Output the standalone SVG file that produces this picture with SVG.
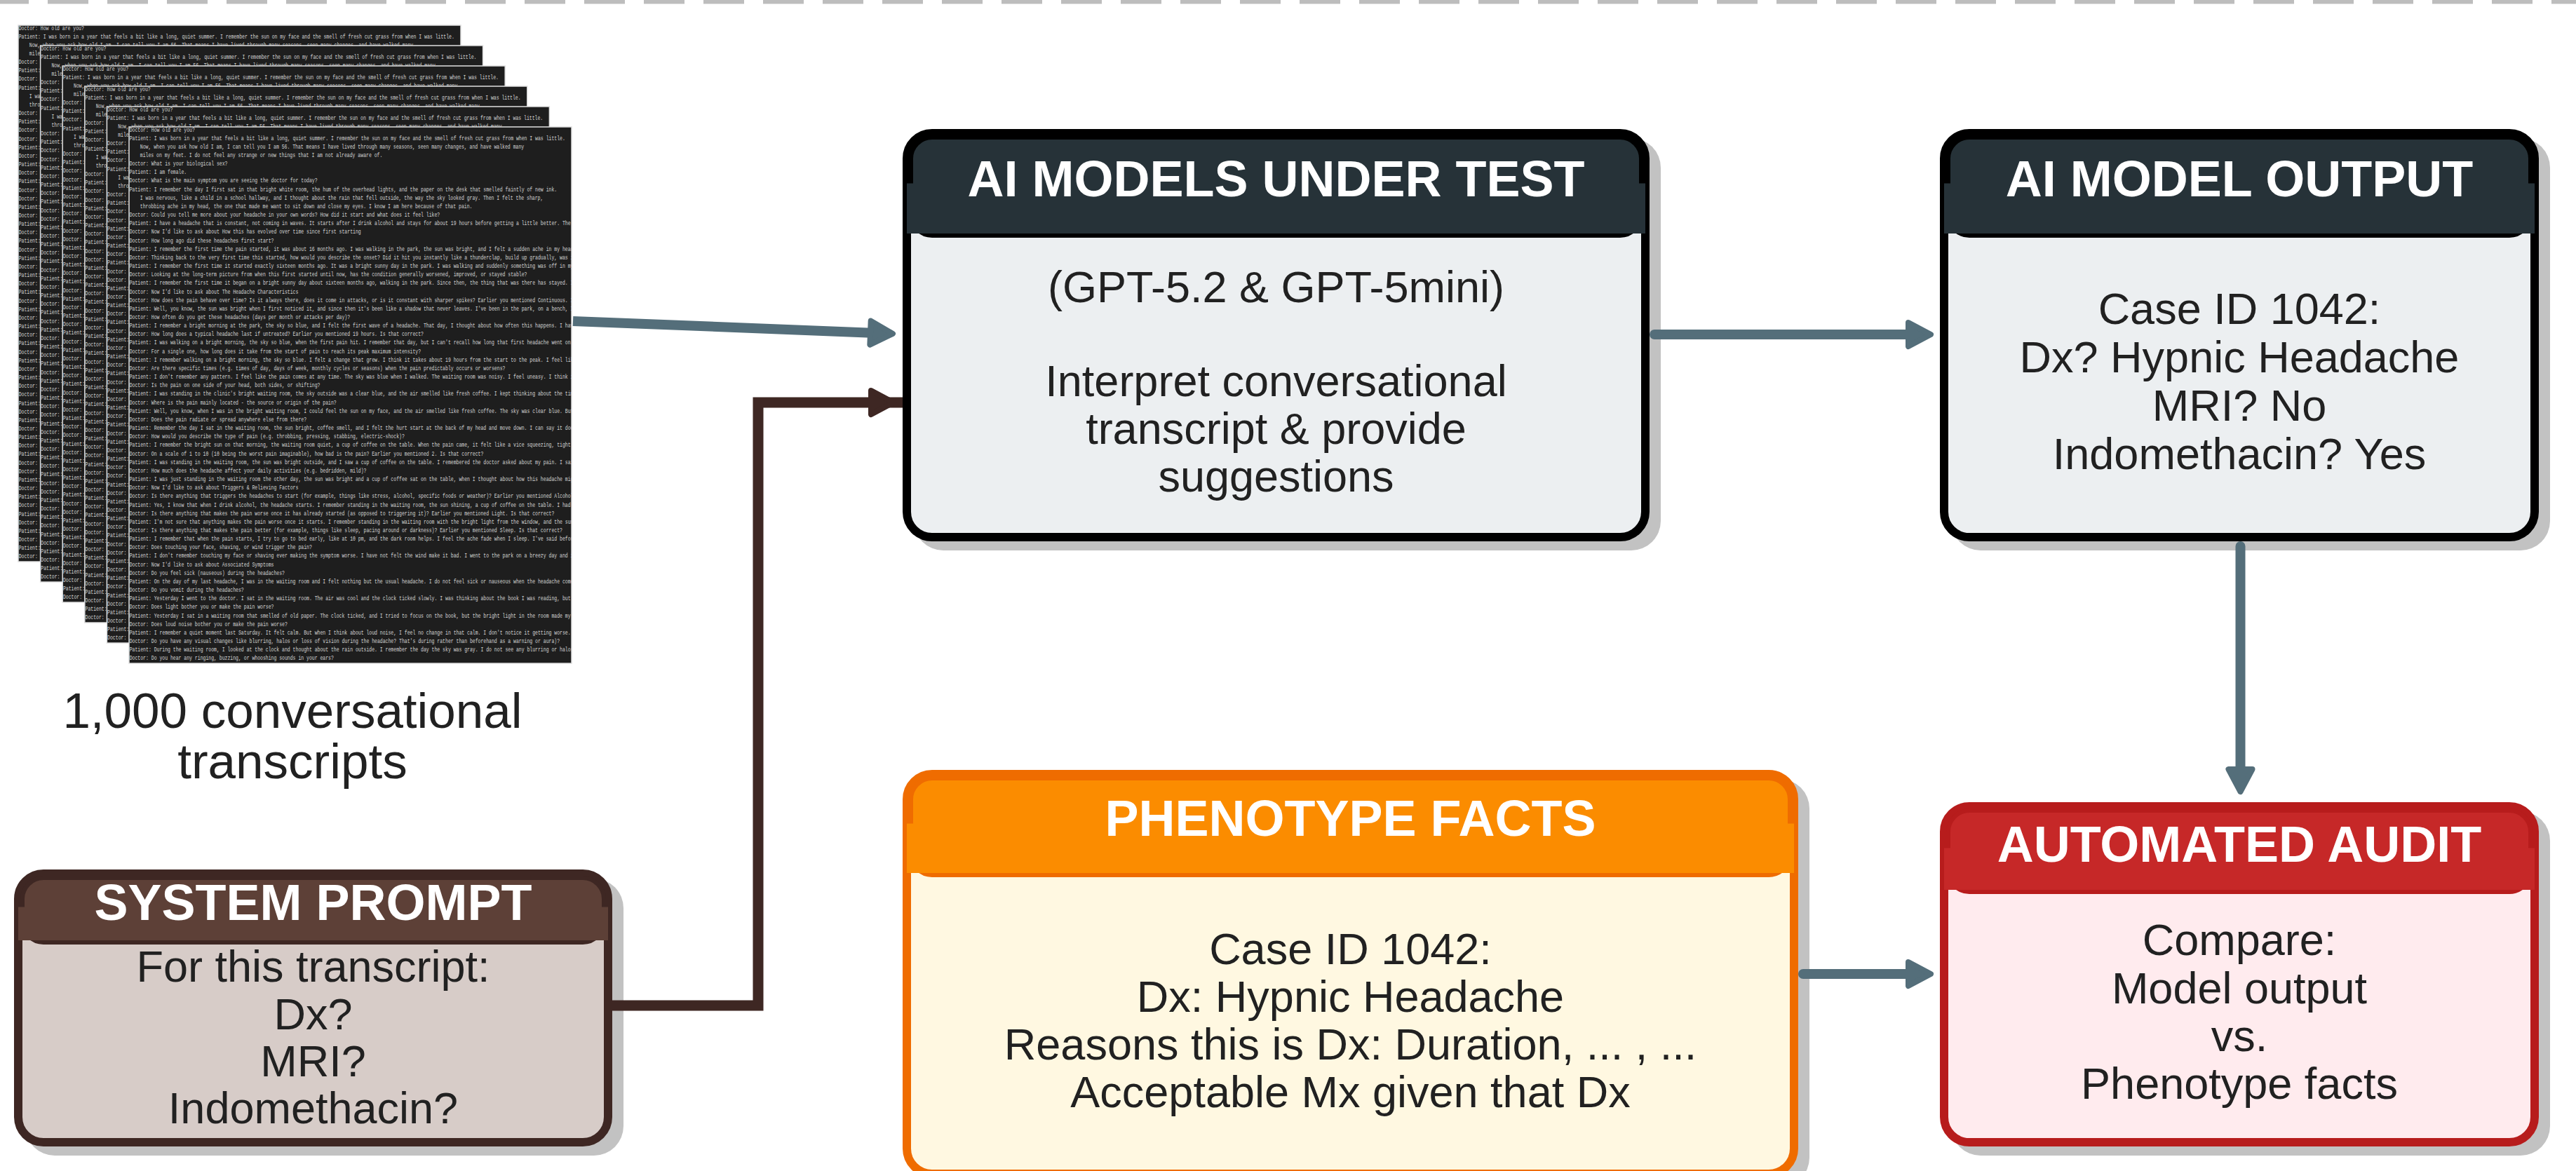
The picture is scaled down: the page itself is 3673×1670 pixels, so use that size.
<svg xmlns="http://www.w3.org/2000/svg" width="3673" height="1670" viewBox="0 0 3673 1670">
<style>
.hd{font-family:'Liberation Sans',Arial,sans-serif;font-weight:700;font-size:72px;fill:#ffffff;text-anchor:middle}
.bd{font-family:'Liberation Sans',Arial,sans-serif;font-size:63px;fill:#212121;text-anchor:middle}
.lb{font-family:'Liberation Sans',Arial,sans-serif;font-size:71px;fill:#212121;text-anchor:middle}
.sh{fill:#c2c2c2}
.sheet{fill:#1e1e1e}
.edge{fill:none;stroke:#e0e0e0;stroke-width:1.5}
.tx{font-family:'Liberation Mono','DejaVu Sans Mono',monospace;font-size:9px;fill:#d4d4d4}
.cg{fill:none;stroke:#546e7a;stroke-width:14}
.cb{fill:none;stroke:#3e2723;stroke-width:15;stroke-linejoin:miter}
.ag{fill:#546e7a;stroke:#546e7a}
.ab{fill:#3e2723;stroke:#3e2723}
</style>
<defs>
<clipPath id="sc"><rect width="631" height="765"/></clipPath>
<path id="ah" d="M-36,-17 L-4,0 L-36,17 Z" stroke-linejoin="round" stroke-width="8"/>
<g id="tx" transform="scale(0.72 1)">
<text class="tx" y="6.5">
<tspan x="1" dy="0">Doctor: How old are you?</tspan>
<tspan x="1" dy="12.16">Patient: I was born in a year that feels a bit like a long, quiet summer. I remember the sun on my face and the smell of fresh cut grass from when I was little.</tspan>
<tspan x="22" dy="12.16">Now, when you ask how old I am, I can tell you I am 56. That means I have lived through many seasons, seen many changes, and have walked many</tspan>
<tspan x="22" dy="12.16">miles on my feet. I do not feel any strange or new things that I am not already aware of.</tspan>
<tspan x="1" dy="12.16">Doctor: What is your biological sex?</tspan>
<tspan x="1" dy="12.16">Patient: I am female.</tspan>
<tspan x="1" dy="12.16">Doctor: What is the main symptom you are seeing the doctor for today?</tspan>
<tspan x="1" dy="12.16">Patient: I remember the day I first sat in that bright white room, the hum of the overhead lights, and the paper on the desk that smelled faintly of new ink.</tspan>
<tspan x="22" dy="12.16">I was nervous, like a child in a school hallway, and I thought about the rain that fell outside, the way the sky looked gray. Then I felt the sharp,</tspan>
<tspan x="22" dy="12.16">throbbing ache in my head, the one that made me want to sit down and close my eyes. I know I am here because of that pain.</tspan>
<tspan x="1" dy="12.16">Doctor: Could you tell me more about your headache in your own words? How did it start and what does it feel like?</tspan>
<tspan x="1" dy="12.16">Patient: I have a headache that is constant, not coming in waves. It starts after I drink alcohol and stays for about 19 hours before getting a little better. The</tspan>
<tspan x="1" dy="12.16">Doctor: Now I'd like to ask about How this has evolved over time since first starting</tspan>
<tspan x="1" dy="12.16">Doctor: How long ago did these headaches first start?</tspan>
<tspan x="1" dy="12.16">Patient: I remember the first time the pain started, it was about 16 months ago. I was walking in the park, the sun was bright, and I felt a sudden ache in my head</tspan>
<tspan x="1" dy="12.16">Doctor: Thinking back to the very first time this started, how would you describe the onset? Did it hit you instantly like a thunderclap, build up gradually, was i</tspan>
<tspan x="1" dy="12.16">Patient: I remember the first time it started exactly sixteen months ago. It was a bright sunny day in the park. I was walking and suddenly something was off in my</tspan>
<tspan x="1" dy="12.16">Doctor: Looking at the long-term picture from when this first started until now, has the condition generally worsened, improved, or stayed stable?</tspan>
<tspan x="1" dy="12.16">Patient: I remember the first time it began on a bright sunny day about sixteen months ago, walking in the park. Since then, the thing that was there has stayed. I</tspan>
<tspan x="1" dy="12.16">Doctor: Now I'd like to ask about The Headache Characteristics</tspan>
<tspan x="1" dy="12.16">Doctor: How does the pain behave over time? Is it always there, does it come in attacks, or is it constant with sharper spikes? Earlier you mentioned Continuous. I</tspan>
<tspan x="1" dy="12.16">Patient: Well, you know, the sun was bright when I first noticed it, and since then it's been like a shadow that never leaves. I've been in the park, on a bench, I</tspan>
<tspan x="1" dy="12.16">Doctor: How often do you get these headaches (days per month or attacks per day)?</tspan>
<tspan x="1" dy="12.16">Patient: I remember a bright morning at the park, the sky so blue, and I felt the first wave of a headache. That day, I thought about how often this happens. I hav</tspan>
<tspan x="1" dy="12.16">Doctor: How long does a typical headache last if untreated? Earlier you mentioned 19 hours. Is that correct?</tspan>
<tspan x="1" dy="12.16">Patient: I was walking on a bright morning, the sky so blue, when the first pain hit. I remember that day, but I can't recall how long that first headache went on.</tspan>
<tspan x="1" dy="12.16">Doctor: For a single one, how long does it take from the start of pain to reach its peak maximum intensity?</tspan>
<tspan x="1" dy="12.16">Patient: I remember walking on a bright morning, the sky so blue. I felt a change that grew. I think it takes about 19 hours from the start to the peak. I feel lik</tspan>
<tspan x="1" dy="12.16">Doctor: Are there specific times (e.g. times of day, days of week, monthly cycles or seasons) when the pain predictably occurs or worsens?</tspan>
<tspan x="1" dy="12.16">Patient: I don't remember any pattern. I feel like the pain comes at any time. The sky was blue when I walked. The waiting room was noisy. I feel uneasy. I think i</tspan>
<tspan x="1" dy="12.16">Doctor: Is the pain on one side of your head, both sides, or shifting?</tspan>
<tspan x="1" dy="12.16">Patient: I was standing in the clinic's bright waiting room, the sky outside was a clear blue, and the air smelled like fresh coffee. I kept thinking about the tim</tspan>
<tspan x="1" dy="12.16">Doctor: Where is the pain mainly located - the source or origin of the pain?</tspan>
<tspan x="1" dy="12.16">Patient: Well, you know, when I was in the bright waiting room, I could feel the sun on my face, and the air smelled like fresh coffee. The sky was clear blue. But</tspan>
<tspan x="1" dy="12.16">Doctor: Does the pain radiate or spread anywhere else from there?</tspan>
<tspan x="1" dy="12.16">Patient: Remember the day I sat in the waiting room, the sun bright, coffee smell, and I felt the hurt start at the back of my head and move down. I can say it doe</tspan>
<tspan x="1" dy="12.16">Doctor: How would you describe the type of pain (e.g. throbbing, pressing, stabbing, electric-shock)?</tspan>
<tspan x="1" dy="12.16">Patient: I remember the bright sun on that morning, the waiting room quiet, a cup of coffee on the table. When the pain came, it felt like a vice squeezing, tight</tspan>
<tspan x="1" dy="12.16">Doctor: On a scale of 1 to 10 (10 being the worst pain imaginable), how bad is the pain? Earlier you mentioned 2. Is that correct?</tspan>
<tspan x="1" dy="12.16">Patient: I was standing in the waiting room, the sun was bright outside, and I saw a cup of coffee on the table. I remembered the doctor asked about my pain. I sai</tspan>
<tspan x="1" dy="12.16">Doctor: How much does the headache affect your daily activities (e.g. bedridden, mild)?</tspan>
<tspan x="1" dy="12.16">Patient: I was just standing in the waiting room the other day, the sun was bright and a cup of coffee sat on the table, when I thought about how this headache mig</tspan>
<tspan x="1" dy="12.16">Doctor: Now I'd like to ask about Triggers &amp; Relieving Factors</tspan>
<tspan x="1" dy="12.16">Doctor: Is there anything that triggers the headaches to start (for example, things like stress, alcohol, specific foods or weather)? Earlier you mentioned Alcohol</tspan>
<tspan x="1" dy="12.16">Patient: Yes, I know that when I drink alcohol, the headache starts. I remember standing in the waiting room, the sun shining, a cup of coffee on the table. I had</tspan>
<tspan x="1" dy="12.16">Doctor: Is there anything that makes the pain worse once it has already started (as opposed to triggering it)? Earlier you mentioned Light. Is that correct?</tspan>
<tspan x="1" dy="12.16">Patient: I'm not sure that anything makes the pain worse once it starts. I remember standing in the waiting room with the bright light from the window, and the sun</tspan>
<tspan x="1" dy="12.16">Doctor: Is there anything that makes the pain better (for example, things like sleep, pacing around or darkness)? Earlier you mentioned Sleep. Is that correct?</tspan>
<tspan x="1" dy="12.16">Patient: I remember that when the pain starts, I try to go to bed early, like at 10 pm, and the dark room helps. I feel the ache fade when I sleep. I've said befor</tspan>
<tspan x="1" dy="12.16">Doctor: Does touching your face, shaving, or wind trigger the pain?</tspan>
<tspan x="1" dy="12.16">Patient: I don't remember touching my face or shaving ever making the symptom worse. I have not felt the wind make it bad. I went to the park on a breezy day and i</tspan>
<tspan x="1" dy="12.16">Doctor: Now I'd like to ask about Associated Symptoms</tspan>
<tspan x="1" dy="12.16">Doctor: Do you feel sick (nauseous) during the headaches?</tspan>
<tspan x="1" dy="12.16">Patient: On the day of my last headache, I was in the waiting room and I felt nothing but the usual headache. I do not feel sick or nauseous when the headache come</tspan>
<tspan x="1" dy="12.16">Doctor: Do you vomit during the headaches?</tspan>
<tspan x="1" dy="12.16">Patient: Yesterday I went to the doctor. I sat in the waiting room. The air was cool and the clock ticked slowly. I was thinking about the book I was reading, but</tspan>
<tspan x="1" dy="12.16">Doctor: Does light bother you or make the pain worse?</tspan>
<tspan x="1" dy="12.16">Patient: Yesterday I sat in a waiting room that smelled of old paper. The clock ticked, and I tried to focus on the book, but the bright light in the room made my</tspan>
<tspan x="1" dy="12.16">Doctor: Does loud noise bother you or make the pain worse?</tspan>
<tspan x="1" dy="12.16">Patient: I remember a quiet moment last Saturday. It felt calm. But when I think about loud noise, I feel no change in that calm. I don't notice it getting worse.</tspan>
<tspan x="1" dy="12.16">Doctor: Do you have any visual changes like blurring, halos or loss of vision during the headache? That's during rather than beforehand as a warning or aura)?</tspan>
<tspan x="1" dy="12.16">Patient: During the waiting room, I looked at the clock and thought about the rain outside. I remember the day the sky was gray. I do not see any blurring or halos</tspan>
<tspan x="1" dy="12.16">Doctor: Do you hear any ringing, buzzing, or whooshing sounds in your ears?</tspan>
</text>
</g>
</defs>

<rect width="3673" height="1670" fill="#ffffff"/>
<line x1="-17" y1="0" x2="3673" y2="0" stroke="#bdbdbd" stroke-width="11" stroke-dasharray="58 27"/>

<g id="transcripts">
<g transform="translate(26,36)"><rect class="sheet" width="631" height="765"/><g clip-path="url(#sc)"><use href="#tx"/></g><rect class="edge" width="631" height="765"/></g>
<g transform="translate(57.6,65)"><rect class="sheet" width="631" height="765"/><g clip-path="url(#sc)"><use href="#tx"/></g><rect class="edge" width="631" height="765"/></g>
<g transform="translate(89.2,94)"><rect class="sheet" width="631" height="765"/><g clip-path="url(#sc)"><use href="#tx"/></g><rect class="edge" width="631" height="765"/></g>
<g transform="translate(120.8,123)"><rect class="sheet" width="631" height="765"/><g clip-path="url(#sc)"><use href="#tx"/></g><rect class="edge" width="631" height="765"/></g>
<g transform="translate(152.4,152)"><rect class="sheet" width="631" height="765"/><g clip-path="url(#sc)"><use href="#tx"/></g><rect class="edge" width="631" height="765"/></g>
<g transform="translate(184,181)"><rect class="sheet" width="631" height="765"/><g clip-path="url(#sc)"><use href="#tx"/></g><rect class="edge" width="631" height="765"/></g>
<text class="lb" x="417" y="1038">1,000 conversational</text>
<text class="lb" x="417" y="1110">transcripts</text>
</g>

<g id="ai-models-under-test">
<rect class="sh" x="1303" y="197" width="1065" height="588" rx="42"/>
<rect x="1293" y="190" width="1053" height="576" rx="36" fill="#eceff1" stroke="#000000" stroke-width="12"/>
<rect x="1299" y="196" width="1041" height="140" rx="30" fill="#263238" stroke="#000000" stroke-width="6"/>
<rect x="1293" y="261.5" width="1053" height="71.5" fill="#263238"/>
<text class="hd" x="1819.5" y="280">AI MODELS UNDER TEST</text>
<text class="bd" x="1819.5" y="431">(GPT-5.2 &amp; GPT-5mini)</text>
<text class="bd" x="1819.5" y="565">Interpret conversational</text>
<text class="bd" x="1819.5" y="633">transcript &amp; provide</text>
<text class="bd" x="1819.5" y="701">suggestions</text>
</g>

<g id="ai-model-output">
<rect class="sh" x="2782" y="197" width="854" height="588" rx="42"/>
<rect x="2772" y="190" width="842" height="576" rx="36" fill="#eceff1" stroke="#000000" stroke-width="12"/>
<rect x="2778" y="196" width="830" height="140" rx="30" fill="#263238" stroke="#000000" stroke-width="6"/>
<rect x="2772" y="261.5" width="842" height="71.5" fill="#263238"/>
<text class="hd" x="3193" y="280">AI MODEL OUTPUT</text>
<text class="bd" x="3193" y="462">Case ID 1042:</text>
<text class="bd" x="3193" y="531">Dx? Hypnic Headache</text>
<text class="bd" x="3193" y="600">MRI? No</text>
<text class="bd" x="3193" y="669">Indomethacin? Yes</text>
</g>

<g id="system-prompt">
<rect class="sh" x="36" y="1253" width="853" height="395" rx="42"/>
<rect x="26" y="1246" width="841" height="383" rx="36" fill="#d7ccc8" stroke="#3e2723" stroke-width="12"/>
<rect x="32" y="1252" width="829" height="92" rx="30" fill="#5d4037" stroke="#3e2723" stroke-width="6"/>
<rect x="26" y="1293.5" width="841" height="47.5" fill="#5d4037"/>
<text class="hd" x="446.5" y="1312">SYSTEM PROMPT</text>
<text class="bd" x="446.5" y="1400">For this transcript:</text>
<text class="bd" x="446.5" y="1468">Dx?</text>
<text class="bd" x="446.5" y="1535">MRI?</text>
<text class="bd" x="446.5" y="1602">Indomethacin?</text>
</g>

<g id="phenotype-facts">
<rect class="sh" x="1303" y="1111" width="1277" height="582" rx="42"/>
<rect x="1293" y="1104" width="1265" height="570" rx="36" fill="#fff8e1" stroke="#ef6c00" stroke-width="12"/>
<rect x="1299" y="1110" width="1253" height="138" rx="30" fill="#fb8c00" stroke="#ef6c00" stroke-width="6"/>
<rect x="1293" y="1174.5" width="1265" height="70.5" fill="#fb8c00"/>
<text class="hd" x="1925.5" y="1192">PHENOTYPE FACTS</text>
<text class="bd" x="1925.5" y="1375">Case ID 1042:</text>
<text class="bd" x="1925.5" y="1443">Dx: Hypnic Headache</text>
<text class="bd" x="1925.5" y="1511">Reasons this is Dx: Duration, ... , ...</text>
<text class="bd" x="1925.5" y="1579">Acceptable Mx given that Dx</text>
</g>

<g id="automated-audit">
<rect class="sh" x="2782" y="1157" width="854" height="491" rx="42"/>
<rect x="2772" y="1150" width="842" height="479" rx="36" fill="#ffebee" stroke="#b71c1c" stroke-width="12"/>
<rect x="2778" y="1156" width="830" height="116" rx="30" fill="#c62828" stroke="#b71c1c" stroke-width="6"/>
<rect x="2772" y="1209.5" width="842" height="59.5" fill="#c62828"/>
<text class="hd" x="3193" y="1229">AUTOMATED AUDIT</text>
<text class="bd" x="3193" y="1362">Compare:</text>
<text class="bd" x="3193" y="1431">Model output</text>
<text class="bd" x="3193" y="1499">vs.</text>
<text class="bd" x="3193" y="1567">Phenotype facts</text>
</g>

<g id="connectors">
<path class="cg" d="M817,458 L1249,474.9"/>
<use href="#ah" class="ag" transform="translate(1277,476) rotate(2.25)"/>
<path class="cb" d="M873,1434 L1081,1434 L1081,574 L1287,574"/>
<use href="#ah" class="ab" transform="translate(1278,574)"/>
<path class="cg" d="M2359,477 L2727,477" stroke-linecap="round"/>
<use href="#ah" class="ag" transform="translate(2757,477)"/>
<path class="cg" d="M3194.5,779 L3194.5,1103" stroke-linecap="round"/>
<use href="#ah" class="ag" transform="translate(3194.5,1133) rotate(90)"/>
<path class="cg" d="M2571,1389 L2727,1389" stroke-linecap="round"/>
<use href="#ah" class="ag" transform="translate(2757,1389)"/>
</g>
</svg>
